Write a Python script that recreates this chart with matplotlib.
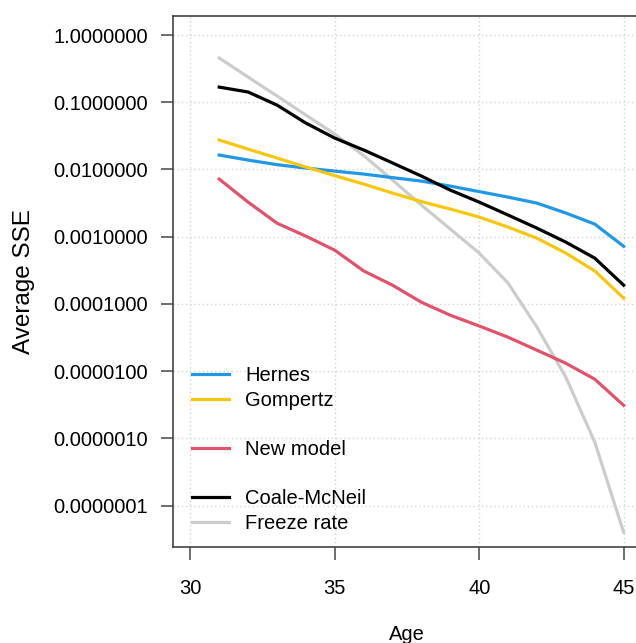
import numpy as np
import matplotlib
matplotlib.use("Agg")
import matplotlib.pyplot as plt
from matplotlib.lines import Line2D
from matplotlib.ticker import FixedLocator, FuncFormatter, NullLocator

plt.rcParams['font.family'] = ['Liberation Sans', 'DejaVu Sans']

# Ages and average SSE per model
ages = [31, 32, 33, 34, 35, 36, 37, 38, 39, 40, 41, 42, 43, 44, 45]
hernes = [0.0164, 0.0138, 0.0118, 0.0105, 0.00946, 0.00855, 0.00757, 0.00672,
          0.00566, 0.00469, 0.00388, 0.00316, 0.00225, 0.00154, 0.00072]
gompertz = [0.0274, 0.0201, 0.0148, 0.01086, 0.00811, 0.00607, 0.00446, 0.00333,
            0.00258, 0.00196, 0.00139, 0.00095, 0.00057, 0.00031, 0.000122]
new_model = [0.0072, 0.00327, 0.00159, 0.00102, 0.00063, 0.00031, 0.00019, 0.000106,
             6.8e-5, 4.7e-5, 3.2e-5, 2.05e-5, 1.31e-5, 7.6e-6, 3.1e-6]
coale_mcneil = [0.168, 0.142, 0.0908, 0.049, 0.0293, 0.0195, 0.0125, 0.00798,
                0.00493, 0.00327, 0.0021, 0.00134, 0.00083, 0.00048, 0.00019]
freeze_rate = [0.455, 0.237, 0.124, 0.0645, 0.0336, 0.0161, 0.00695, 0.00295,
               0.0013, 0.00057, 0.000204, 4.5e-5, 8.1e-6, 8.8e-7, 4.0e-8]

x_ticks = [30, 35, 40, 45]
y_ticks = [1e0, 1e-1, 1e-2, 1e-3, 1e-4, 1e-5, 1e-6, 1e-7]

fig = plt.figure(figsize=(6.36, 6.43), dpi=100)
ax = fig.add_axes([173 / 636, 96 / 643, 468 / 636, 531 / 643])

lw = 2.3
ax.plot(ages, hernes, color='#2297E6', lw=lw, zorder=3)
ax.plot(ages, gompertz, color='#F5C710', lw=lw, zorder=3)
ax.plot(ages, new_model, color='#DF536B', lw=lw, zorder=3)
ax.plot(ages, coale_mcneil, color='black', lw=lw, zorder=3)
ax.plot(ages, freeze_rate, color='#CCCCCC', lw=lw, zorder=2)

ax.set_yscale('log')
ax.set_xlim(29.4, 45.6)
ax.set_ylim(10 ** -7.615, 10 ** 0.283)

ax.xaxis.set_major_locator(FixedLocator(x_ticks))
ax.yaxis.set_major_locator(FixedLocator(y_ticks))
ax.yaxis.set_minor_locator(NullLocator())
ax.yaxis.set_major_formatter(FuncFormatter(lambda v, p: '%.7f' % v))

ax.grid(True, which='major', linestyle=(0, (1, 2)), color='#d3d3d3', lw=1)
ax.set_axisbelow(True)

ax.tick_params(axis='both', which='major', labelsize=14.5, length=9, width=1.2,
               color='#555555', labelcolor='black', direction='out')
ax.tick_params(axis='y', pad=9)
ax.tick_params(axis='x', pad=14)

for side in ['left', 'top', 'bottom', 'right']:
    ax.spines[side].set_color('#444444')
    ax.spines[side].set_linewidth(1.2)

ax.set_xlabel('Age', fontsize=14.5)
ax.set_ylabel('Average SSE', fontsize=17.5)
ax.xaxis.set_label_coords(0.5, -0.1465)
ax.yaxis.set_label_coords(-0.295, 0.5)

handles = [
    Line2D([], [], color='#2297E6', lw=lw),
    Line2D([], [], color='#F5C710', lw=lw),
    Line2D([], [], color='none'),
    Line2D([], [], color='#DF536B', lw=lw),
    Line2D([], [], color='none'),
    Line2D([], [], color='black', lw=lw),
    Line2D([], [], color='#CCCCCC', lw=lw),
]
labels = ['Hernes', 'Gompertz', ' ', 'New model', ' ', 'Coale-McNeil', 'Freeze rate']
ax.legend(handles, labels, loc='upper left', bbox_to_anchor=(19 / 468, 181 / 531),
          frameon=False, fontsize=14.5, borderpad=0, borderaxespad=0,
          handlelength=1.85, handletextpad=0.8, labelspacing=0.28)

fig.savefig('out.png', dpi=100)
